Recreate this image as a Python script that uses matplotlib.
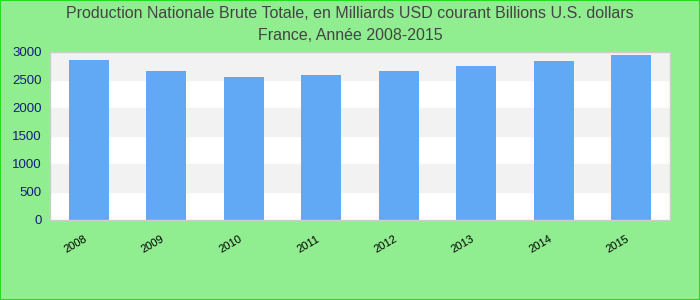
import numpy as np
import matplotlib
matplotlib.use("Agg")
import matplotlib.pyplot as plt
from matplotlib.patches import Rectangle

# data
years = ["2008", "2009", "2010", "2011", "2012", "2013", "2014", "2015"]
values = [2860, 2660, 2555, 2590, 2660, 2750, 2840, 2945]
y_ticks = [0, 500, 1000, 1500, 2000, 2500, 3000]

title_lines = ["Production Nationale Brute Totale, en Milliards USD courant Billions U.S. dollars",
               "France, Année 2008-2015"]

plt.rcParams['font.family'] = ['Liberation Sans', 'DejaVu Sans']

fig = plt.figure(figsize=(7, 3), dpi=100, facecolor="#90ee90")
fig.patches.append(Rectangle((0, 0), 1, 1, transform=fig.transFigure, fill=False,
                             edgecolor="#22dd22", linewidth=1.5))
ax = fig.add_axes([50 / 700, 80 / 300, 620 / 700, 168 / 300])
ax.set_facecolor("white")

# alternating bands
for i in range(len(y_ticks) - 1):
    if i % 2 == 1:
        ax.axhspan(y_ticks[i], y_ticks[i + 1], color="#f2f2f2", zorder=0)

x = np.arange(len(years))
ax.bar(x, values, width=0.52, color="#61a9f5", zorder=2)

ax.set_xlim(-0.5, len(years) - 0.5)
ax.set_ylim(0, 3000)
ax.set_yticks(y_ticks)
ax.set_yticklabels([str(t) for t in y_ticks], color="#1a1a80", fontsize=9.5)
ax.set_xticks(x)
ax.set_xticklabels(years, rotation=30, ha="right", fontsize=8)
ax.tick_params(axis="both", length=0, pad=6)
ax.tick_params(axis="x", pad=10)

for s in ax.spines.values():
    s.set_color("#cccccc")
    s.set_linewidth(1)

fig.text(0.5, 1 - 13 / 300, title_lines[0], ha="center", va="center", fontsize=11.5,
         color="#444444")
fig.text(0.5, 1 - 35 / 300, title_lines[1], ha="center", va="center", fontsize=11.5,
         color="#444444")

fig.savefig("out.png", dpi=100, facecolor=fig.get_facecolor())
